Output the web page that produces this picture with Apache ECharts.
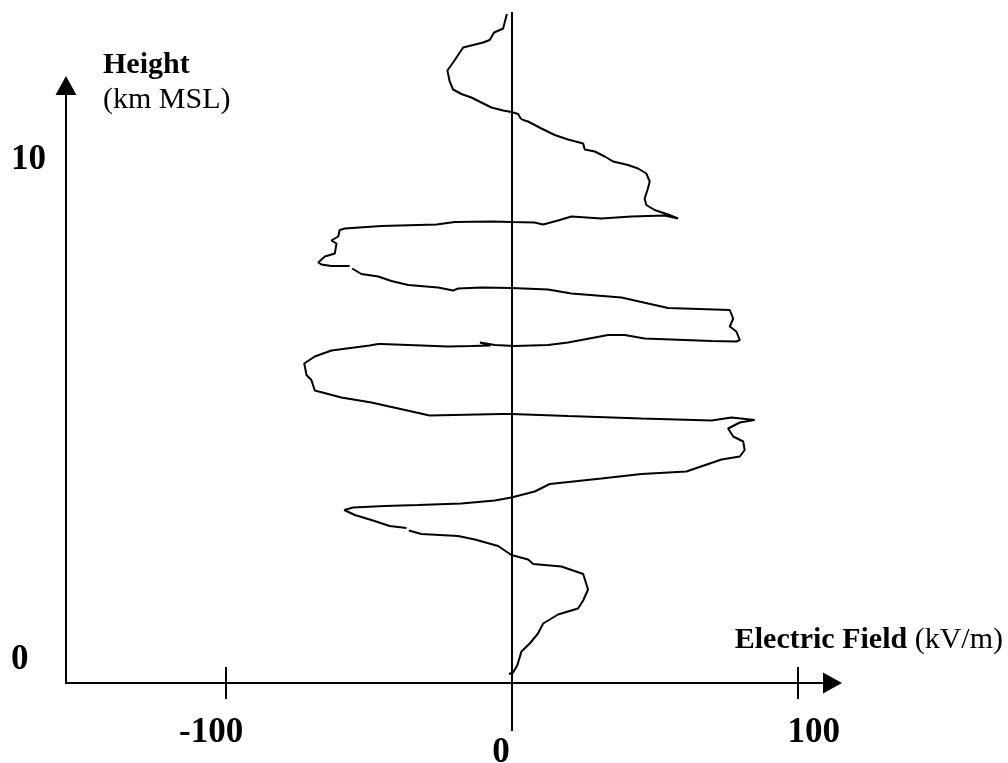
<!DOCTYPE html>
<html>
<head>
<meta charset="utf-8">
<script src="https://cdn.jsdelivr.net/npm/echarts@6/dist/echarts.min.js"></script>
<style>
  html, body { margin: 0; padding: 0; background: #fff; }
  #chart { width: 1008px; height: 763px; }
</style>
</head>
<body>
<div id="chart"></div>
<script>
// Electric field profile (kV/m) vs height (km MSL)
const fieldKVm = [
  -1.8, -3.1, -3.7, -6.25, -7.8, -10.1, -17.1, -20.0, -22.6, -21.8, -20.6, -17.7, -14.2, -10.7, -7.2, -3.1,
  -0.2, 2.14, 1.55, 3.05, 3.9, 5.6, 10.3, 14.95, 19.6, 24.9, 25.45, 26.0, 28.95, 32.45, 35.4, 40.6,
  44.1, 47.0, 48.2, 47.4, 46.4, 47.0, 49.9, 54.6, 58.1,
  53.3, 41.8, 31.3, 20.8, 16.1, 10.9, 7.85, -0.2, -7.2, -20.0, -26.4, -45.7, -58.5, -60.3, -60.8,
  -63.2, -61.4, -62.0, -65.5, -67.8, -66.7, -63.2, -56.8, null,
  -55.9, -52.7, -46.8, -42.2, -36.3, -25.85, -20.6, -18.85, -10.7, -0.2, 12.6, 20.8, 38.3, 47.6,
  54.6, 76.2, 77.4, 76.2, 78.5, 79.7, 78.5, 69.8, 46.4, 39.4, 33.6, 19.6, 12.6, 0.96, -6.04,
  -11.2, -7.55, -14.2, -22.35, -45.7, -46.8, -49.8, -63.2, -69.0, -72.7, -71.9, -70.2, -69.0,
  -59.7, -49.2, -28.8, -3.7, -0.2, 19.6, 45.3, 69.8, 76.8, 84.9, 79.7, 75.6, 77.4, 80.9, 81.4,
  79.7, 73.3, 61.0, 45.3, 31.3, 13.2, 7.95, -0.2, -6.04, -17.7, -32.8, -44.5, -55.6, -58.7,
  -55.0, -49.2, -42.8, -36.9, null,
  -36.1, -31.7, -18.85, -13.0, -4.85, -0.2, 5.64, 7.4, 17.3, 24.9, 26.6, 25.0, 23.1, 16.1,
  10.9, 9.1, 6.2, 3.3, 1.9, 0.4, -1.1
];
const heightKm = [
  12.92, 12.63, 12.60, 12.55, 12.40, 12.35, 12.25, 12.00, 11.79, 11.57, 11.41, 11.32, 11.25, 11.15, 11.05, 10.99,
  10.96, 10.92, 10.88, 10.83, 10.80, 10.77, 10.63, 10.50, 10.41, 10.33, 10.21, 10.23, 10.17, 10.07, 9.97, 9.90,
  9.83, 9.73, 9.57, 9.40, 9.23, 9.10, 9.00, 8.91, 8.83,
  8.89, 8.87, 8.83, 8.87, 8.79, 8.71, 8.75, 8.76, 8.77, 8.76, 8.71, 8.68, 8.63, 8.60, 8.47,
  8.39, 8.33, 8.13, 8.07, 7.95, 7.91, 7.88, 7.88, null,
  7.83, 7.72, 7.67, 7.58, 7.50, 7.45, 7.39, 7.43, 7.45, 7.44, 7.41, 7.33, 7.25, 7.13,
  7.04, 7.00, 6.83, 6.67, 6.57, 6.40, 6.37, 6.38, 6.43, 6.50, 6.50, 6.35, 6.30, 6.28, 6.30,
  6.35, 6.29, 6.28, 6.27, 6.32, 6.32, 6.29, 6.19, 6.07, 5.93, 5.70, 5.60, 5.39,
  5.25, 5.15, 4.89, 4.92, 4.92, 4.88, 4.83, 4.79, 4.85, 4.80, 4.75, 4.63, 4.47, 4.37, 4.20,
  4.07, 4.01, 3.77, 3.72, 3.63, 3.52, 3.37, 3.25, 3.19, 3.13, 3.10, 3.08, 3.05, 3.00,
  2.90, 2.80, 2.68, 2.64, null,
  2.59, 2.52, 2.48, 2.41, 2.28, 2.10, 2.01, 1.92, 1.87, 1.72, 1.41, 1.20, 1.03, 0.91,
  0.73, 0.53, 0.33, 0.17, -0.10, -0.25, -0.28
];
// Vertical zero-field reference line
const zeroLineField = [0, 0];
const zeroLineHeight = [12.96, -1.42];

const xTickValues = [-100, 100];
const xLabelValues = [-100, 0, 100];
const yLabelValues = [0, 10];

const xTitleBold = 'Electric Field ';
const xTitleUnit = '(kV/m)';
const yTitleBold = 'Height';
const yTitleUnit = '(km MSL)';

const FONT = "'Liberation Serif', 'Times New Roman', serif";

const curveData = fieldKVm.map((v, i) => [v, heightKm[i]]);
const zeroData = zeroLineField.map((v, i) => [v, zeroLineHeight[i]]);

const X_MIN = -156.05, X_MAX = 112.14;
const Y_MIN = -0.46, Y_MAX = 11.49;

const chart = echarts.init(document.getElementById('chart'), null, { renderer: 'canvas' });

const labelRich = {
  neg: { fontFamily: FONT, fontWeight: 'bold', fontSize: 35, lineHeight: 35, color: '#000', padding: [0, 30, 0, 0] },
  zero: { fontFamily: FONT, fontWeight: 'bold', fontSize: 35, lineHeight: 35, color: '#000', padding: [41, 22, 0, 0] },
  pos: { fontFamily: FONT, fontWeight: 'bold', fontSize: 35, lineHeight: 35, color: '#000', padding: [0, 0, 0, 32] }
};

chart.setOption({
  animation: false,
  backgroundColor: '#ffffff',
  grid: { left: 66, right: 175.5, top: 85.5, bottom: 80, containLabel: false, outerBoundsMode: 'none' },
  xAxis: [
    {
      type: 'value', position: 'bottom', min: X_MIN, max: X_MAX,
      axisLine: { show: true, onZero: false, symbol: ['none', 'triangle'], symbolSize: [21, 19],
                  lineStyle: { color: '#000', width: 2 } },
      axisTick: { show: true, inside: false, length: 16, customValues: xTickValues,
                  lineStyle: { color: '#000', width: 2 } },
      axisLabel: {
        show: true, customValues: xLabelValues, margin: 32,
        formatter: function (val) {
          if (val < 0) return '{neg|' + val + '}';
          if (val > 0) return '{pos|' + val + '}';
          return '{zero|' + val + '}';
        },
        rich: labelRich
      },
      splitLine: { show: false },
      name: '{b|' + xTitleBold + '}{r|' + xTitleUnit + '}',
      nameLocation: 'end', nameGap: 170.5,
      nameTextStyle: {
        align: 'right', verticalAlign: 'bottom', padding: [0, 0, 25, 0],
        rich: {
          b: { fontFamily: FONT, fontWeight: 'bold', fontSize: 30, lineHeight: 35, color: '#000' },
          r: { fontFamily: FONT, fontSize: 30, lineHeight: 35, color: '#000' }
        }
      }
    },
    {
      type: 'value', position: 'bottom', min: X_MIN, max: X_MAX,
      axisLine: { show: false, onZero: false },
      axisTick: { show: true, inside: true, length: 16, customValues: xTickValues,
                  lineStyle: { color: '#000', width: 2 } },
      axisLabel: { show: false },
      splitLine: { show: false }
    }
  ],
  yAxis: {
    type: 'value', min: Y_MIN, max: Y_MAX,
    axisLine: { show: true, onZero: false, symbol: ['none', 'triangle'], symbolSize: [21, 19],
                lineStyle: { color: '#000', width: 2 } },
    axisTick: { show: false },
    axisLabel: {
      show: true, customValues: yLabelValues, align: 'left', margin: 55,
      fontFamily: FONT, fontWeight: 'bold', fontSize: 35, color: '#000'
    },
    splitLine: { show: false },
    name: '{b|' + yTitleBold + '}\n{r|' + yTitleUnit + '}',
    nameLocation: 'end', nameGap: 37.5,
    nameTextStyle: {
      align: 'left', verticalAlign: 'top', padding: [0, 0, 0, 37],
      rich: {
        b: { fontFamily: FONT, fontWeight: 'bold', fontSize: 30, lineHeight: 35, color: '#000', align: 'left' },
        r: { fontFamily: FONT, fontSize: 30, lineHeight: 35, color: '#000', align: 'left' }
      }
    }
  },
  series: [
    {
      type: 'line', name: 'zero', xAxisIndex: 0, data: zeroData, clip: false,
      showSymbol: false, symbol: 'none', silent: true,
      lineStyle: { color: '#000', width: 2 }
    },
    {
      type: 'line', name: 'Electric field', xAxisIndex: 0, data: curveData, clip: false,
      showSymbol: false, symbol: 'none', connectNulls: false,
      lineStyle: { color: '#000', width: 2 }
    }
  ]
});
</script>
</body>
</html>
